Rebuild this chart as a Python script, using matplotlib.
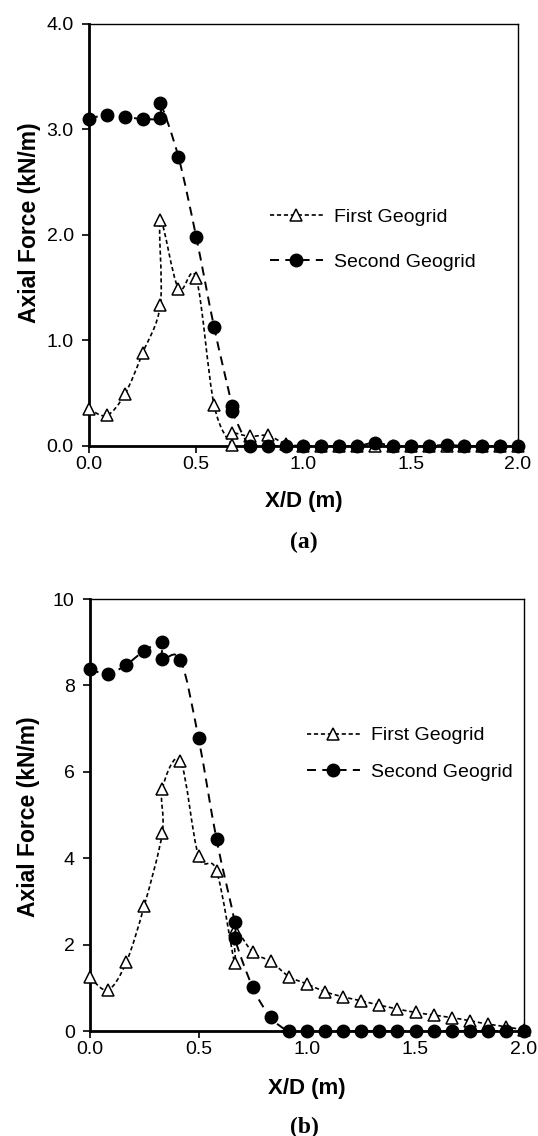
import numpy as np
import matplotlib
matplotlib.use("Agg")
import matplotlib.pyplot as plt
from matplotlib.path import Path
from matplotlib.patches import PathPatch
from matplotlib.lines import Line2D

plt.rcParams['font.family'] = ['Liberation Sans', 'DejaVu Sans']
plt.rcParams['lines.scale_dashes'] = False

# X/D positions (the two repeated positions hold two readings each)
xd = [0.0, 0.083, 0.167, 0.25, 0.333, 0.333, 0.417, 0.5, 0.583, 0.667, 0.667,
      0.75, 0.833, 0.917, 1.0, 1.083, 1.167, 1.25, 1.333, 1.417, 1.5, 1.583,
      1.667, 1.75, 1.833, 1.917, 2.0]

# panel (a)
first_a = [0.35, 0.29, 0.49, 0.88, 1.34, 2.14, 1.49, 1.59, 0.39, 0.01, 0.12,
           0.09, 0.10, 0.02, 0.0, 0.0, 0.0, 0.0, 0.0, 0.0, 0.0, 0.0,
           0.0, 0.0, 0.0, 0.0, 0.0]
second_a = [3.10, 3.14, 3.12, 3.10, 3.11, 3.25, 2.74, 1.98, 1.13, 0.38, 0.33,
            0.0, 0.0, 0.0, 0.0, 0.0, 0.0, 0.0, 0.03, 0.0, 0.0, 0.0,
            0.01, 0.0, 0.0, 0.0, 0.0]

# panel (b)
first_b = [1.24, 0.95, 1.59, 2.90, 4.58, 5.61, 6.25, 4.05, 3.71, 1.57, 2.35,
           1.82, 1.61, 1.26, 1.09, 0.91, 0.79, 0.70, 0.60, 0.51, 0.43, 0.37,
           0.31, 0.24, 0.16, 0.10, 0.02]
second_b = [8.38, 8.26, 8.48, 8.80, 9.01, 8.61, 8.59, 6.78, 4.44, 2.52, 2.15,
            1.01, 0.32, 0.0, 0.0, 0.0, 0.0, 0.0, 0.0, 0.0, 0.0, 0.0,
            0.0, 0.0, 0.0, 0.0, 0.0]

labels = ['First Geogrid', 'Second Geogrid']

FIRST_LS = (0, (3.0, 2.0))
SECOND_LS = (0, (6.5, 4.5))


def smooth_path(xs, ys):
    # excel style smoothed line (catmull-rom as bezier segments)
    pts = np.column_stack([xs, ys]).astype(float)
    n = len(pts)
    verts = [pts[0]]
    codes = [Path.MOVETO]
    for i in range(n - 1):
        p0 = pts[max(i - 1, 0)]
        p1 = pts[i]
        p2 = pts[i + 1]
        p3 = pts[min(i + 2, n - 1)]
        verts += [p1 + (p2 - p0) / 6.0, p2 - (p3 - p1) / 6.0, p2]
        codes += [Path.CURVE4] * 3
    return Path(verts, codes)


def draw_panel(ax, first, second, ymax, ystep, yfmt, leg_xy, leg_space):
    ax.add_patch(PathPatch(smooth_path(xd, first), fill=False, edgecolor='black',
                           lw=1.2, linestyle=FIRST_LS, zorder=2))
    ax.plot(xd, first, linestyle='none', marker='^', ms=8.5, mfc='white',
            mec='black', mew=1.1, clip_on=False, zorder=3)
    ax.add_patch(PathPatch(smooth_path(xd, second), fill=False, edgecolor='black',
                           lw=1.4, linestyle=SECOND_LS, zorder=4))
    ax.plot(xd, second, linestyle='none', marker='o', ms=9, color='black',
            clip_on=False, zorder=5)

    ax.set_xlim(0, 2.0)
    ax.set_ylim(0, ymax)
    ax.set_xticks(np.arange(0, 2.01, 0.5))
    ax.set_xticklabels(['%.1f' % v for v in np.arange(0, 2.01, 0.5)])
    yt = np.arange(0, ymax + 0.001, ystep)
    ax.set_yticks(yt)
    ax.set_yticklabels([yfmt % v for v in yt])

    for s in ['left', 'bottom']:
        ax.spines[s].set_linewidth(2.0)
    for s in ['top', 'right']:
        ax.spines[s].set_linewidth(1.0)
    ax.tick_params(axis='both', direction='out', length=5, width=1.2,
                   labelsize=14, colors='black')
    ax.tick_params(axis='y', pad=6)
    ax.tick_params(axis='x', pad=2)

    ax.set_xlabel('X/D (m)', fontsize=16, fontweight='bold')
    ax.set_ylabel('Axial Force (kN/m)', fontsize=16.5, fontweight='bold')

    h1 = Line2D([], [], color='black', lw=1.2, linestyle=FIRST_LS, marker='^',
                ms=8.5, mfc='white', mec='black', mew=1.1)
    h2 = Line2D([], [], color='black', lw=1.4, linestyle=SECOND_LS, marker='o',
                ms=9, mfc='black', mec='black')
    ax.legend([h1, h2], labels, loc='center left', bbox_to_anchor=leg_xy,
              frameon=False, fontsize=14, handlelength=2.7, handletextpad=0.6,
              labelspacing=leg_space, borderpad=0, borderaxespad=0, numpoints=1)


fig = plt.figure(figsize=(5.38, 11.36), dpi=100)
ax1 = fig.add_axes([0.1654, 0.6074, 0.7974, 0.3715])
ax2 = fig.add_axes([0.1673, 0.0924, 0.8067, 0.3803])

draw_panel(ax1, first_a, second_a, 4.0, 1.0, '%.1f', (0.422, 0.489), 1.4)
draw_panel(ax2, first_b, second_b, 10, 2, '%d', (0.5, 0.642), 0.95)

ax1.yaxis.set_label_coords(-0.112, 0.53)
ax1.xaxis.set_label_coords(0.5, -0.107)
ax2.yaxis.set_label_coords(-0.115, 0.495)
ax2.xaxis.set_label_coords(0.5, -0.109)

fig.text(304 / 538, 1 - 542 / 1136, '(a)', ha='center', va='center',
         fontsize=17, fontweight='bold', family='Liberation Serif')
fig.text(304 / 538, 1 - 1127 / 1136, '(b)', ha='center', va='center',
         fontsize=17, fontweight='bold', family='Liberation Serif')

fig.savefig('out.png', dpi=100)
